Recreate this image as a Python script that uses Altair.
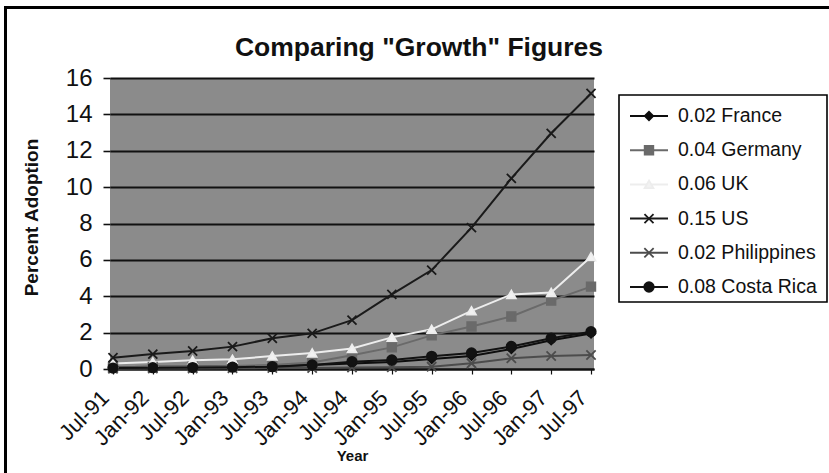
import altair as alt
import pandas as pd

# Half-year observation points
periods = ["Jul-91", "Jan-92", "Jul-92", "Jan-93", "Jul-93", "Jan-94", "Jul-94",
           "Jan-95", "Jul-95", "Jan-96", "Jul-96", "Jan-97", "Jul-97"]

# Series names as shown in the legend (growth rate + country)
series = ["0.02 France", "0.04 Germany", "0.06 UK", "0.15 US",
          "0.02 Philippines", "0.08 Costa Rica"]

# Percent adoption per series
france = [0.10, 0.12, 0.13, 0.15, 0.18, 0.22, 0.30, 0.38, 0.55, 0.72, 1.10, 1.58, 1.95]
germany = [0.10, 0.11, 0.13, 0.16, 0.22, 0.36, 0.75, 1.19, 1.85, 2.34, 2.89, 3.76, 4.53]
uk = [0.30, 0.38, 0.48, 0.53, 0.71, 0.88, 1.13, 1.74, 2.18, 3.20, 4.10, 4.21, 6.17]
us = [0.62, 0.82, 0.99, 1.23, 1.69, 1.96, 2.69, 4.10, 5.44, 7.77, 10.48, 12.96, 15.15]
philippines = [0.02, 0.03, 0.03, 0.04, 0.05, 0.06, 0.08, 0.10, 0.13, 0.31, 0.59, 0.71, 0.77]
costa_rica = [0.05, 0.07, 0.08, 0.10, 0.13, 0.22, 0.40, 0.50, 0.70, 0.88, 1.24, 1.69, 2.05]

values = [france, germany, uk, us, philippines, costa_rica]

# Styling per series
X_PATH = "M-1,-1L1,1M-1,1L1,-1"
line_colors = ["#0e0e0e", "#6a6a6a", "#ededed", "#1a1a1a", "#4c4c4c", "#121212"]
marker_fills = ["#0e0e0e", "#6a6a6a", "#f2f2f2", "#1a1a1a", "#4c4c4c", "#121212"]
marker_shapes = ["diamond", "square", "triangle-up", X_PATH, X_PATH, "circle"]
marker_sizes = [70, 90, 100, 130, 110, 120]

rows = []
for name, vals in zip(series, values):
    for p, v in zip(periods, vals):
        rows.append({"series": name, "period": p, "value": v})
df = pd.DataFrame(rows)
legend_df = pd.DataFrame({"series": series})
one_row = pd.DataFrame({"k": [0]})

FONT = "Liberation Sans"

x_enc = alt.X(
    "period:N", sort=periods,
    scale=alt.Scale(type="point", padding=0.075),
    axis=alt.Axis(
        title="Year", labelAngle=-45, labelAlign="right", labelBaseline="middle",
        labelFontSize=22, labelPadding=20, labelOffset=-8, labelColor="#111",
        tickSize=5, tickColor="#111", tickWidth=1.2,
        domainColor="#111", domainWidth=1.8,
        titleFontSize=15, titleFontWeight="bold", titleColor="#111",
        titleY=86, titleBaseline="middle",
        grid=False,
    ),
)

y_scale = alt.Scale(domain=[0, 16], nice=False, zero=True)
y_axis = alt.Axis(
    title="Percent Adoption", values=list(range(0, 17, 2)),
    labelFontSize=24, labelPadding=11, labelColor="#111",
    tickSize=7, tickColor="#111", tickWidth=1.6,
    domain=False, grid=True, gridColor="#111", gridWidth=1.8,
    titleFontSize=19, titleFontWeight="bold", titlePadding=24, titleColor="#111",
    titleY=139,
)

stroke_enc = alt.Stroke("series:N", scale=alt.Scale(domain=series, range=line_colors), legend=None)
fill_enc = alt.Fill("series:N", scale=alt.Scale(domain=series, range=marker_fills), legend=None)
shape_enc = alt.Shape("series:N", scale=alt.Scale(domain=series, range=marker_shapes), legend=None)
size_enc = alt.Size("series:N", scale=alt.Scale(domain=series, range=marker_sizes), legend=None)

# Outer frame of the figure
frame = alt.Chart(one_row).mark_rect(
    fill="transparent", stroke="#000", strokeWidth=3, clip=False
).encode(
    x=alt.value(-104.5), x2=alt.value(900),
    y=alt.value(-70.5), y2=alt.value(600),
)

lines = alt.Chart(df).mark_line(strokeWidth=2).encode(
    x=x_enc,
    y=alt.Y("value:Q", scale=y_scale, axis=y_axis),
    stroke=stroke_enc,
)

points = alt.Chart(df).mark_point(filled=True, strokeWidth=1.8, opacity=1).encode(
    x=x_enc,
    y=alt.Y("value:Q", scale=y_scale, axis=None),
    fill=fill_enc, stroke=stroke_enc, shape=shape_enc, size=size_enc,
)

# Legend panel
legend_y = alt.Y("series:N", sort=series,
                 scale=alt.Scale(type="point", range=[38, 209], padding=0), axis=None)

legend_box = alt.Chart(one_row).mark_rect(
    fill="white", stroke="#000", strokeWidth=1.6, clip=False
).encode(
    x=alt.value(509), x2=alt.value(717), y=alt.value(17), y2=alt.value(224),
)

legend_rules = alt.Chart(legend_df).mark_rule(strokeWidth=2, clip=False).encode(
    x=alt.value(520), x2=alt.value(558), y=legend_y, stroke=stroke_enc,
)

legend_points = alt.Chart(legend_df).mark_point(filled=True, strokeWidth=1.8, opacity=1, clip=False).encode(
    x=alt.value(539), y=legend_y,
    fill=fill_enc, stroke=stroke_enc, shape=shape_enc, size=size_enc,
)

legend_text = alt.Chart(legend_df).mark_text(
    align="left", baseline="middle", fontSize=19.5, font=FONT, color="#111", clip=False
).encode(
    x=alt.value(568), y=legend_y, text="series:N",
)

chart = alt.layer(
    frame, lines, points, legend_box, legend_rules, legend_points, legend_text
).resolve_scale(
    y="independent"
).properties(
    width=484, height=291,
    padding={"left": 110, "top": 78, "right": 235, "bottom": 104},
    autosize=alt.AutoSizeParams(type="none"),
    background="white",
    title=alt.Title(
        'Comparing "Growth" Figures', fontSize=26.5, font=FONT, fontWeight="bold",
        color="#111", anchor="middle", dx=67, dy=75, offset=20,
    ),
).configure_view(
    fill="#8b8b8b", stroke=None,
).configure_axis(
    labelFont=FONT, titleFont=FONT,
)

chart.save("out.html", embed_options={"renderer": "svg", "actions": False})
